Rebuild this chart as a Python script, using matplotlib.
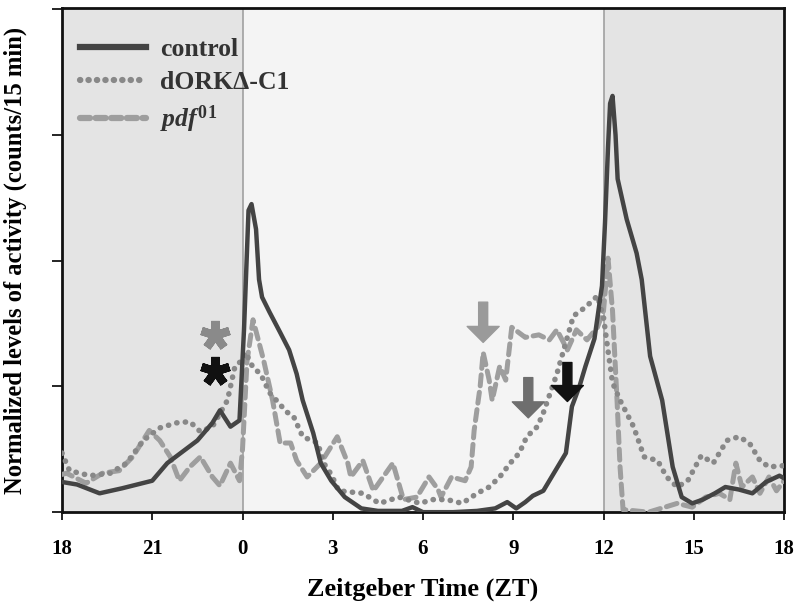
import matplotlib
matplotlib.use("Agg")
import matplotlib.pyplot as plt
from matplotlib.lines import Line2D

plt.rcParams['font.family'] = ['Liberation Serif', 'DejaVu Serif']
plt.rcParams['mathtext.fontset'] = 'custom'
plt.rcParams['mathtext.it'] = 'Liberation Serif:italic:bold'
plt.rcParams['mathtext.rm'] = 'Liberation Serif:bold'

# x = hours since ZT18
tick_pos = [0, 3, 6, 9, 12, 15, 18, 21, 24]
tick_labels = ['18', '21', '0', '3', '6', '9', '12', '15', '18']

control_t = [0, 0.5, 1.25, 2.0, 3.0, 3.5, 4.0, 4.5, 5.0, 5.25, 5.6, 5.9, 6.05, 6.2, 6.3, 6.45,
             6.55, 6.65, 6.9, 7.25, 7.55, 7.8, 8.0, 8.35, 8.6, 8.95, 9.4, 9.95, 10.5, 11.3,
             11.65, 12.0, 13.0, 13.8, 14.4, 14.8, 15.1, 15.4, 15.65, 16.0, 16.4, 16.75, 16.95,
             17.2, 17.4, 17.7, 17.95, 18.05, 18.15, 18.22, 18.3, 18.4, 18.47, 18.77, 19.1,
             19.27, 19.55, 19.95, 20.3, 20.6, 20.95, 21.3, 21.7, 22.05, 22.5, 22.95, 23.4,
             23.85, 24]
control_v = [0.24, 0.22, 0.15, 0.19, 0.25, 0.39, 0.48, 0.57, 0.71, 0.81, 0.68, 0.73, 1.45, 2.4,
             2.45, 2.25, 1.85, 1.71, 1.59, 1.43, 1.29, 1.1, 0.89, 0.63, 0.39, 0.25, 0.12, 0.03,
             0.01, 0.01, 0.04, 0.0, 0.0, 0.01, 0.03, 0.08, 0.03, 0.08, 0.13, 0.17, 0.33, 0.47,
             0.84, 1.0, 1.16, 1.38, 1.8, 2.3, 2.9, 3.25, 3.31, 3.0, 2.65, 2.33, 2.06,
             1.85, 1.24, 0.89, 0.36, 0.12, 0.07, 0.1, 0.15, 0.2, 0.18, 0.15, 0.24,
             0.29, 0.27]

dork_t = [0, 0.25, 0.93, 1.6, 2.15, 2.7, 3.25, 3.8, 4.25, 4.6, 5.0, 5.5, 5.75, 5.95, 6.1, 6.35,
          6.6, 6.9, 7.2, 7.45, 7.7, 8.0, 8.5, 8.7, 8.95, 9.2, 10.0, 10.55, 11.2, 11.9, 12.3,
          12.8, 13.3, 13.8, 14.2, 14.55, 14.9, 15.2, 15.45, 15.8, 16.0, 16.45, 17.0, 17.4,
          17.8, 18.0, 18.1, 18.3, 18.55, 19.0, 19.35, 19.8, 20.1, 20.45, 20.8, 21.25, 21.65,
          22.1, 22.5, 22.85, 23.2, 23.5, 24]
dork_v = [0.47, 0.33, 0.29, 0.31, 0.39, 0.57, 0.67, 0.71, 0.72, 0.64, 0.68, 0.89, 1.16, 1.2,
          1.27, 1.15, 1.1, 0.95, 0.87, 0.8, 0.76, 0.6, 0.55, 0.39, 0.3, 0.17, 0.15, 0.07, 0.12,
          0.07, 0.1, 0.1, 0.07, 0.15, 0.2, 0.28, 0.39, 0.47, 0.6, 0.68, 0.79, 1.1, 1.56, 1.63,
          1.72, 1.55, 1.37, 1.03, 0.89, 0.68, 0.44, 0.41, 0.28, 0.2, 0.25, 0.45, 0.39, 0.57,
          0.6, 0.55, 0.41, 0.36, 0.37]

pdf_t = [0, 0.15, 0.8, 1.35, 1.9, 2.35, 2.9, 3.25, 3.6, 3.9, 4.25, 4.6, 5.0, 5.25, 5.6, 5.9,
         6.0, 6.15, 6.35, 6.7, 7.0, 7.25, 7.6, 7.8, 8.15, 8.6, 9.15, 9.5, 9.6, 10.0, 10.35,
         11.0, 11.35, 11.8, 12.2, 12.5, 12.6, 12.95, 13.4, 13.6, 13.7, 13.9, 14.0, 14.2, 14.3,
         14.55, 14.75, 14.95, 15.4, 15.85, 16.2, 16.45, 16.8, 17.1, 17.45, 17.8, 18.0, 18.15,
         18.3, 18.45, 18.55, 18.65, 19.5, 20.45, 20.95, 21.4, 21.85, 22.2, 22.4, 22.6, 22.95,
         23.2, 23.5, 23.75, 24]
pdf_v = [0.3, 0.31, 0.23, 0.31, 0.33, 0.44, 0.65, 0.57, 0.44, 0.25, 0.36, 0.44, 0.28, 0.21,
         0.39, 0.25, 0.5, 1.2, 1.53, 1.21, 0.89, 0.55, 0.55, 0.41, 0.28, 0.39, 0.6, 0.39, 0.28,
         0.41, 0.17, 0.39, 0.1, 0.12, 0.28, 0.18, 0.12, 0.28, 0.25, 0.36, 0.65, 1.0, 1.27, 1.05,
         0.89, 1.16, 1.05, 1.47, 1.39, 1.41, 1.37, 1.45, 1.29, 1.45, 1.37, 1.47, 1.6, 2.02, 1.6,
         0.89, 0.36, 0.02, 0.0, 0.07, 0.04, 0.12, 0.15, 0.1, 0.39, 0.2, 0.28, 0.15, 0.28, 0.17,
         0.25]

labels = ['control', 'dORK\u0394-C1', r'$pdf^{\mathit{01}}$']

# arrows: (x, y_tail, y_tip, colour)
arrows = [(14.0, 1.67, 1.35, '#9a9a9a'), (15.5, 1.07, 0.75, '#6e6e6e'), (16.8, 1.19, 0.88, '#111111')]
# asterisks: (x, y, colour)
stars = [(5.08, 1.41, '#8a8a8a'), (5.08, 1.12, '#111111')]

fig = plt.figure(figsize=(8.0, 6.09), dpi=100)
ax = fig.add_axes([0.0775, 0.159, 0.9025, 0.828])

night = '#e4e4e4'
day = '#f4f4f4'
ax.axvspan(0, 6, color=night, zorder=0, lw=0)
ax.axvspan(6, 18, color=day, zorder=0, lw=0)
ax.axvspan(18, 24, color=night, zorder=0, lw=0)
ax.axvline(6, color='#a0a0a0', lw=1.2, zorder=1)
ax.axvline(18, color='#a0a0a0', lw=1.2, zorder=1)

ctrl_c = '#444444'
dork_c = '#888888'
pdf_c = '#9e9e9e'

ax.plot(pdf_t, pdf_v, color=pdf_c, lw=3.6, linestyle=(0, (2.2, 1.3)),
        dash_capstyle='round', zorder=3, label=labels[2])
ax.plot(dork_t, dork_v, color=dork_c, lw=4.0, linestyle=(0, (0.05, 1.5)),
        dash_capstyle='round', zorder=4, label=labels[1])
ax.plot(control_t, control_v, color=ctrl_c, lw=3.2, zorder=5, label=labels[0],
        solid_joinstyle='round')

for x, y0, y1, c in arrows:
    ax.annotate('', xy=(x, y1), xytext=(x, y0),
                arrowprops=dict(arrowstyle='simple,head_width=2.3,head_length=1.15,tail_width=0.65',
                                color=c, shrinkA=0, shrinkB=0, mutation_scale=10), zorder=6)

for x, y, c in stars:
    ax.plot([x], [y], marker=(5, 2, 0), markersize=21, markeredgewidth=6,
            color=c, markeredgecolor=c, zorder=6, solid_capstyle='round')

ax.set_xlim(0, 24)
ax.set_ylim(0, 4.01)
ax.set_xticks(tick_pos)
ax.set_xticklabels(tick_labels, fontsize=15, fontweight='bold')
ax.set_yticks([0, 1, 2, 3, 4])
ax.set_yticklabels([])
ax.tick_params(axis='x', direction='out', length=6, width=1.2, pad=13)
ax.tick_params(axis='y', direction='out', length=7, width=1.2)
for s in ax.spines.values():
    s.set_linewidth(2)
    s.set_color('#111111')

ax.set_xlabel('Zeitgeber Time (ZT)', fontsize=19, fontweight='bold', labelpad=14)
ax.set_ylabel('Normalized levels of activity (counts/15 min)', fontsize=17.7,
              fontweight='bold', labelpad=15)

h = [Line2D([], [], color=ctrl_c, lw=4.5),
     Line2D([], [], color=dork_c, lw=4.5, linestyle=(0, (0.05, 1.3)), dash_capstyle='round'),
     Line2D([], [], color=pdf_c, lw=4.5, linestyle=(0, (1.6, 0.9)), dash_capstyle='round')]
leg = ax.legend(h, labels, loc='upper left', frameon=False, handlelength=2.55,
                handletextpad=0.55, labelspacing=0.38, borderaxespad=0.3,
                prop={'size': 18.5, 'weight': 'bold'}, bbox_to_anchor=(0.0, 0.976))
for t in leg.get_texts():
    t.set_color('#333333')

fig.savefig('out.png', dpi=100)
